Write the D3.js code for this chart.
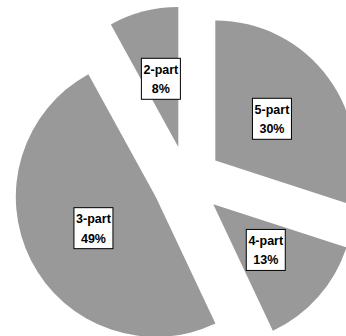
<!DOCTYPE html>
<html>
<head>
<meta charset="utf-8">
<script src="https://cdn.jsdelivr.net/npm/d3@7"></script>
<style>
  html, body { margin: 0; padding: 0; background: #fff; }
  svg { display: block; }
</style>
</head>
<body>
<svg id="chart" width="346" height="336"></svg>
<script>
// Share of items by number of parts
const categories = ["5-part", "4-part", "3-part", "2-part"];
const shares = [30, 13, 49, 8];

const width = 346, height = 336;
const cx = 187, cy = 181;
const radius = 140;
const explode = 35;

const svg = d3.select("#chart");
const g = svg.append("g").attr("transform", `translate(${cx},${cy})`);

const data = categories.map((c, i) => ({ name: c, value: shares[i] }));

const pie = d3.pie().value(d => d.value).sort(null).startAngle(0).endAngle(2 * Math.PI);
const arc = d3.arc().innerRadius(0).outerRadius(radius);

const slices = g.selectAll("g.slice")
  .data(pie(data))
  .join("g")
  .attr("class", "slice")
  .attr("transform", d => {
    const a = (d.startAngle + d.endAngle) / 2;
    return `translate(${explode * Math.sin(a)},${-explode * Math.cos(a)})`;
  });

slices.append("path")
  .attr("d", arc)
  .attr("fill", "#999999");

const labels = slices.append("g")
  .attr("transform", d => `translate(${arc.centroid(d)})`);

labels.each(function(d) {
  const lg = d3.select(this);
  const rect = lg.append("rect");
  const text = lg.append("text")
    .attr("text-anchor", "middle")
    .attr("font-family", "Liberation Sans, Arial, sans-serif")
    .attr("font-weight", "bold")
    .attr("font-size", "12.5px")
    .attr("fill", "#000");
  text.append("tspan").attr("x", 0).attr("y", -5.5).text(d.data.name);
  text.append("tspan").attr("x", 0).attr("y", 14).text(d.data.value + "%");
  const w = 39, h = 41;
  rect.attr("x", -w / 2).attr("y", -h / 2 - 0.5).attr("width", w).attr("height", h)
    .attr("fill", "#fff").attr("stroke", "#000").attr("stroke-width", 1);
});
</script>
</body>
</html>
